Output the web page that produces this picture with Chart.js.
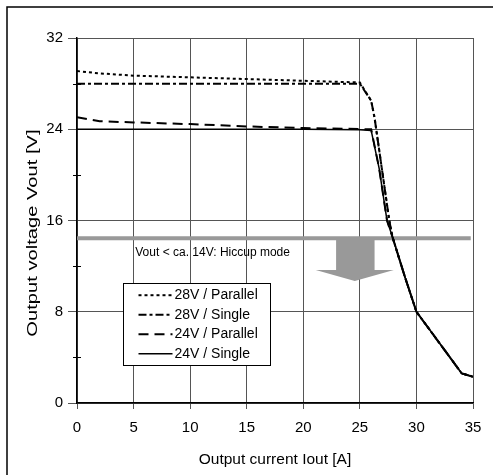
<!DOCTYPE html>
<html>
<head>
<meta charset="utf-8">
<script src="https://cdn.jsdelivr.net/npm/chart.js@4"></script>
<style>
  html, body { margin: 0; padding: 0; background: #fff; }
  #wrap { width: 493px; height: 475px; }
</style>
</head>
<body>
<div id="wrap"><canvas id="myChart" width="493" height="475"></canvas></div>
<script>
// output current [A] / output voltage [V]
const current28P = [0, 2, 5, 10, 15, 20, 25, 26, 26.3, 27.6, 27.9, 29, 30, 32, 34, 35];
const volt28P    = [29.1, 28.9, 28.7, 28.55, 28.4, 28.25, 28.1, 26.5, 25.0, 16.0, 14.5, 11.0, 8.0, 5.3, 2.6, 2.3];

const current28S = [0, 5, 10, 15, 20, 25, 26, 26.3, 27.6, 27.9, 29, 30, 32, 34, 35];
const volt28S    = [28.0, 28.0, 28.0, 28.0, 28.0, 28.0, 26.5, 25.0, 16.0, 14.5, 11.0, 8.0, 5.3, 2.6, 2.3];

const current24P = [0, 2, 5, 10, 15, 20, 26, 26.7, 27.4, 27.9, 29, 30, 32, 34, 35];
const volt24P    = [25.05, 24.7, 24.6, 24.45, 24.25, 24.1, 24.0, 20.6, 16.0, 14.5, 11.0, 8.0, 5.3, 2.6, 2.3];

const current24S = [0, 5, 10, 15, 20, 25, 26, 26.7, 27.4, 27.9, 29, 30, 32, 34, 35];
const volt24S    = [24.0, 24.0, 24.0, 24.0, 24.0, 23.95, 23.9, 20.6, 16.0, 14.5, 11.0, 8.0, 5.3, 2.6, 2.3];

const seriesLabels = ['28V / Parallel', '28V / Single', '24V / Parallel', '24V / Single'];
const minorTicks = [4, 12, 20, 28];
const hiccupText = 'Vout < ca. 14V: Hiccup mode';
const yTitle = 'Output voltage Vout [V]';
const xTitle = 'Output current Iout [A]';

function pts(xs, ys) {
    return xs.map((x, i) => ({x: x, y: ys[i]}));
}

const FONT = '"Liberation Sans", Arial, sans-serif';

let myChart = document.getElementById('myChart');

let chart = new Chart(myChart, {
    type: 'line',
    data: {
        datasets: [
            {
                label: seriesLabels[0],
                data: pts(current28P, volt28P),
                borderColor: '#000',
                borderWidth: 2,
                borderDash: [3, 3]
            },
            {
                label: seriesLabels[1],
                data: pts(current28S, volt28S),
                borderColor: '#000',
                borderWidth: 2,
                borderDash: [8, 3, 3, 3]
            },
            {
                label: seriesLabels[2],
                data: pts(current24P, volt24P),
                borderColor: '#000',
                borderWidth: 2,
                borderDash: [10, 6]
            },
            {
                label: seriesLabels[3],
                data: pts(current24S, volt24S),
                borderColor: '#000',
                borderWidth: 1.5,
                borderDash: []
            }
        ]
    },
    options: {
        responsive: false,
        animation: false,
        elements: { point: { radius: 0 }, line: { tension: 0 } },
        layout: { padding: { top: 38, right: 20, left: 8, bottom: 4 } },
        plugins: {
            legend: { display: false },
            tooltip: { enabled: false }
        },
        scales: {
            x: {
                type: 'linear',
                min: 0, max: 35,
                ticks: { stepSize: 5, color: '#000', padding: 10, font: { family: FONT, size: 15 } },
                grid: { color: '#555', lineWidth: 1, tickLength: 6 },
                border: { color: '#000', width: 1.5 },
                title: { display: true, text: xTitle, color: '#000',
                         font: { family: FONT, size: 15.5 }, padding: { top: 4, bottom: 2 } },
                afterFit: s => { s.height = 68; }
            },
            y: {
                min: 0, max: 32,
                ticks: { stepSize: 8, color: '#000', padding: 5, font: { family: FONT, size: 15 } },
                grid: { color: '#555', lineWidth: 1, tickLength: 9 },
                border: { color: '#000', width: 1.5 },
                afterFit: s => { s.width = 69; }
            }
        }
    },
    plugins: [
        {
            // white page with frame on top/left
            beforeDraw: function(c) {
                let ctx = c.ctx;
                ctx.save();
                ctx.fillStyle = '#fff';
                ctx.fillRect(0, 0, c.width, c.height);
                ctx.strokeStyle = '#000';
                ctx.lineWidth = 1.5;
                ctx.strokeRect(7, 7, c.width + 20, c.height + 20);
                ctx.restore();
            }
        },
        {
            // hiccup band + arrow, behind the curves
            beforeDatasetsDraw: function(c) {
                let ctx = c.ctx, xs = c.scales.x, ys = c.scales.y;
                ctx.save();
                ctx.fillStyle = '#999';
                ctx.strokeStyle = '#999';
                let yb = ys.getPixelForValue(14.45);
                ctx.lineWidth = 4;
                ctx.beginPath();
                ctx.moveTo(xs.getPixelForValue(0), yb);
                ctx.lineTo(xs.getPixelForValue(34.8), yb);
                ctx.stroke();
                // arrow
                let s1 = xs.getPixelForValue(22.9), s2 = xs.getPixelForValue(26.3);
                let h1 = xs.getPixelForValue(21.1), h2 = xs.getPixelForValue(28.0);
                let tip = xs.getPixelForValue(24.55);
                let yh = ys.getPixelForValue(11.65), yt = ys.getPixelForValue(10.7);
                ctx.beginPath();
                ctx.moveTo(s1, yb);
                ctx.lineTo(s2, yb);
                ctx.lineTo(s2, yh);
                ctx.lineTo(h2, yh);
                ctx.lineTo(tip, yt);
                ctx.lineTo(h1, yh);
                ctx.lineTo(s1, yh);
                ctx.closePath();
                ctx.fill();
                ctx.fillStyle = '#000';
                ctx.font = '12px ' + FONT;
                ctx.textBaseline = 'middle';
                ctx.fillText(hiccupText, xs.getPixelForValue(5.15), ys.getPixelForValue(13.2));
                ctx.restore();
            }
        },
        {
            // minor y ticks, y title, legend box
            afterDraw: function(c) {
                let ctx = c.ctx, xs = c.scales.x, ys = c.scales.y;
                ctx.save();
                ctx.strokeStyle = '#000';
                ctx.lineWidth = 1;
                let x0 = xs.getPixelForValue(0);
                minorTicks.forEach(v => {
                    let y = Math.round(ys.getPixelForValue(v)) + 0.5;
                    ctx.beginPath();
                    ctx.moveTo(x0 - 4, y);
                    ctx.lineTo(x0 + 4, y);
                    ctx.stroke();
                });

                // y axis title (stretched along its run like the original)
                ctx.save();
                ctx.translate(33, ys.getPixelForValue(14.9));
                ctx.rotate(-Math.PI / 2);
                ctx.scale(1.3, 1);
                ctx.font = '15.5px ' + FONT;
                ctx.fillStyle = '#000';
                ctx.textAlign = 'center';
                ctx.textBaseline = 'middle';
                ctx.fillText(yTitle, 0, 0);
                ctx.restore();

                let bl = Math.round(xs.getPixelForValue(4.06)) + 0.5;
                let br = Math.round(xs.getPixelForValue(17.03)) + 0.5;
                let bt = Math.round(ys.getPixelForValue(10.55)) + 0.5;
                let bb = Math.round(ys.getPixelForValue(3.36)) + 0.5;
                ctx.fillStyle = '#fff';
                ctx.fillRect(bl, bt, br - bl, bb - bt);
                ctx.lineWidth = 1;
                ctx.strokeRect(bl, bt, br - bl, bb - bt);

                let rowH = (bb - bt) / 4.2;
                ctx.font = '14px ' + FONT;
                ctx.textBaseline = 'middle';
                ctx.fillStyle = '#000';
                c.data.datasets.forEach((ds, i) => {
                    let y = bt + rowH * (i + 0.6);
                    ctx.beginPath();
                    ctx.setLineDash(ds.borderDash);
                    ctx.lineWidth = ds.borderWidth;
                    ctx.moveTo(bl + 15, y);
                    ctx.lineTo(bl + 49, y);
                    ctx.stroke();
                    ctx.setLineDash([]);
                    ctx.fillText(ds.label, bl + 51, y);
                });
                ctx.restore();
            }
        }
    ]
});
</script>
</body>
</html>
